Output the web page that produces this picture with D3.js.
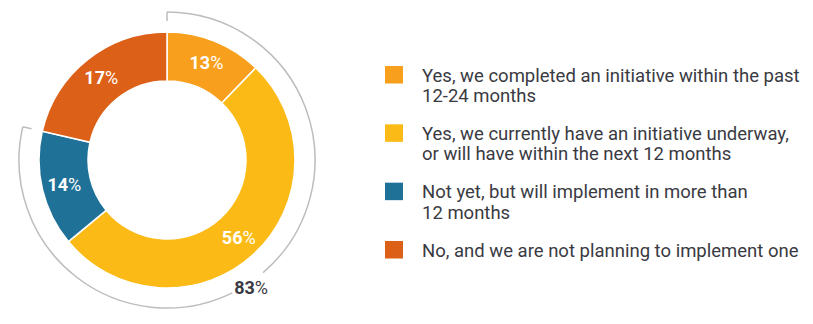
<!DOCTYPE html>
<html><head><meta charset="utf-8">
<script src="https://cdn.jsdelivr.net/npm/d3@7"></script>
<style>body{margin:0;background:#fff;}svg{display:block;font-family:Roboto,"Noto Sans",sans-serif;}</style>
</head><body>
<svg id="chart" width="813" height="324"></svg>
<script>
// Data
const categories = [
  "Yes, we completed an initiative within the past 12-24 months",
  "Yes, we currently have an initiative underway, or will have within the next 12 months",
  "Not yet, but will implement in more than 12 months",
  "No, and we are not planning to implement one"
];
const legendLines = [
  ["Yes, we completed an initiative within the past", "12-24 months"],
  ["Yes, we currently have an initiative underway,", "or will have within the next 12 months"],
  ["Not yet, but will implement in more than", "12 months"],
  ["No, and we are not planning to implement one"]
];
const values = [13, 56, 14, 17];            // printed percentages
const sliceShares = [12.2, 51.8, 14.6, 21.4]; // slice sizes as drawn in the picture
const bracketLabel = "83";
const colors = ["#F89F1D", "#FBBA16", "#1F7198", "#DC6017"];

const svg = d3.select("#chart");
const cx = 167, cy = 160, rOuter = 128, rInner = 79, rBracket = 148;

const pie = d3.pie().sort(null).value(d => d)
  .startAngle(0).endAngle(2 * Math.PI);
const arcs = pie(sliceShares);
const arc = d3.arc().innerRadius(rInner).outerRadius(rOuter);

const g = svg.append("g").attr("transform", `translate(${cx},${cy})`);
g.selectAll("path.slice").data(arcs).join("path")
  .attr("class", "slice")
  .attr("d", arc)
  .attr("fill", (d, i) => colors[i])
  .attr("stroke", "#fff").attr("stroke-width", 1.5);

// slice labels
const lab = g.selectAll("text.val").data(arcs).join("text")
  .attr("class", "val")
  .attr("transform", d => { const c = d3.arc().innerRadius(rInner + 2).outerRadius(rOuter + 2).centroid(d); return `translate(${c[0]},${c[1]})`; })
  .attr("text-anchor", "middle").attr("dy", "0.36em")
  .attr("fill", "#fff").attr("font-size", 18);
lab.append("tspan").attr("font-weight", 700).text((d, i) => values[i]);
lab.append("tspan").attr("font-weight", 400).text("%");

// bracket arc covering first three slices
const bracketEnd = arcs[2].endAngle;
const labelAngle = 2.56; // radians, position of 83% label
const gap = 0.125;
const bArc = d3.arc().innerRadius(rBracket).outerRadius(rBracket);
const bracketSegs = [[0, labelAngle - gap], [labelAngle + gap, bracketEnd]];
g.selectAll("path.br").data(bracketSegs).join("path")
  .attr("class", "br")
  .attr("d", d => bArc({startAngle: d[0], endAngle: d[1]}))
  .attr("fill", "none").attr("stroke", "#bdbdbd").attr("stroke-width", 1.5);
[0, bracketEnd].forEach(a => {
  g.append("line")
    .attr("x1", Math.sin(a) * rBracket).attr("y1", -Math.cos(a) * rBracket)
    .attr("x2", Math.sin(a) * (rBracket - 9)).attr("y2", -Math.cos(a) * (rBracket - 9))
    .attr("stroke", "#bdbdbd").attr("stroke-width", 1.5);
});
const bl = g.append("text")
  .attr("x", Math.sin(labelAngle) * 153).attr("y", -Math.cos(labelAngle) * 153)
  .attr("text-anchor", "middle").attr("dy", "0.36em")
  .attr("fill", "#3a3a42").attr("font-size", 18);
bl.append("tspan").attr("font-weight", 700).text(bracketLabel);
bl.append("tspan").attr("font-weight", 400).text("%");

// legend
const legendY = d3.scalePoint().domain(d3.range(categories.length)).range([81.7, 256.7]);
const leg = svg.append("g");
categories.forEach((c, i) => {
  const y = legendY(i);
  leg.append("rect").attr("x", 385).attr("y", y - 15.7).attr("width", 18).attr("height", 17.5)
    .attr("fill", colors[i]);
  const t = leg.append("text").attr("x", 422).attr("y", y)
    .attr("fill", "#3a3a42").attr("font-size", 18.5);
  legendLines[i].forEach((ln, j) => {
    t.append("tspan").attr("x", 422).attr("y", y + j * 20.3).text(ln);
  });
});
</script>
</body></html>
